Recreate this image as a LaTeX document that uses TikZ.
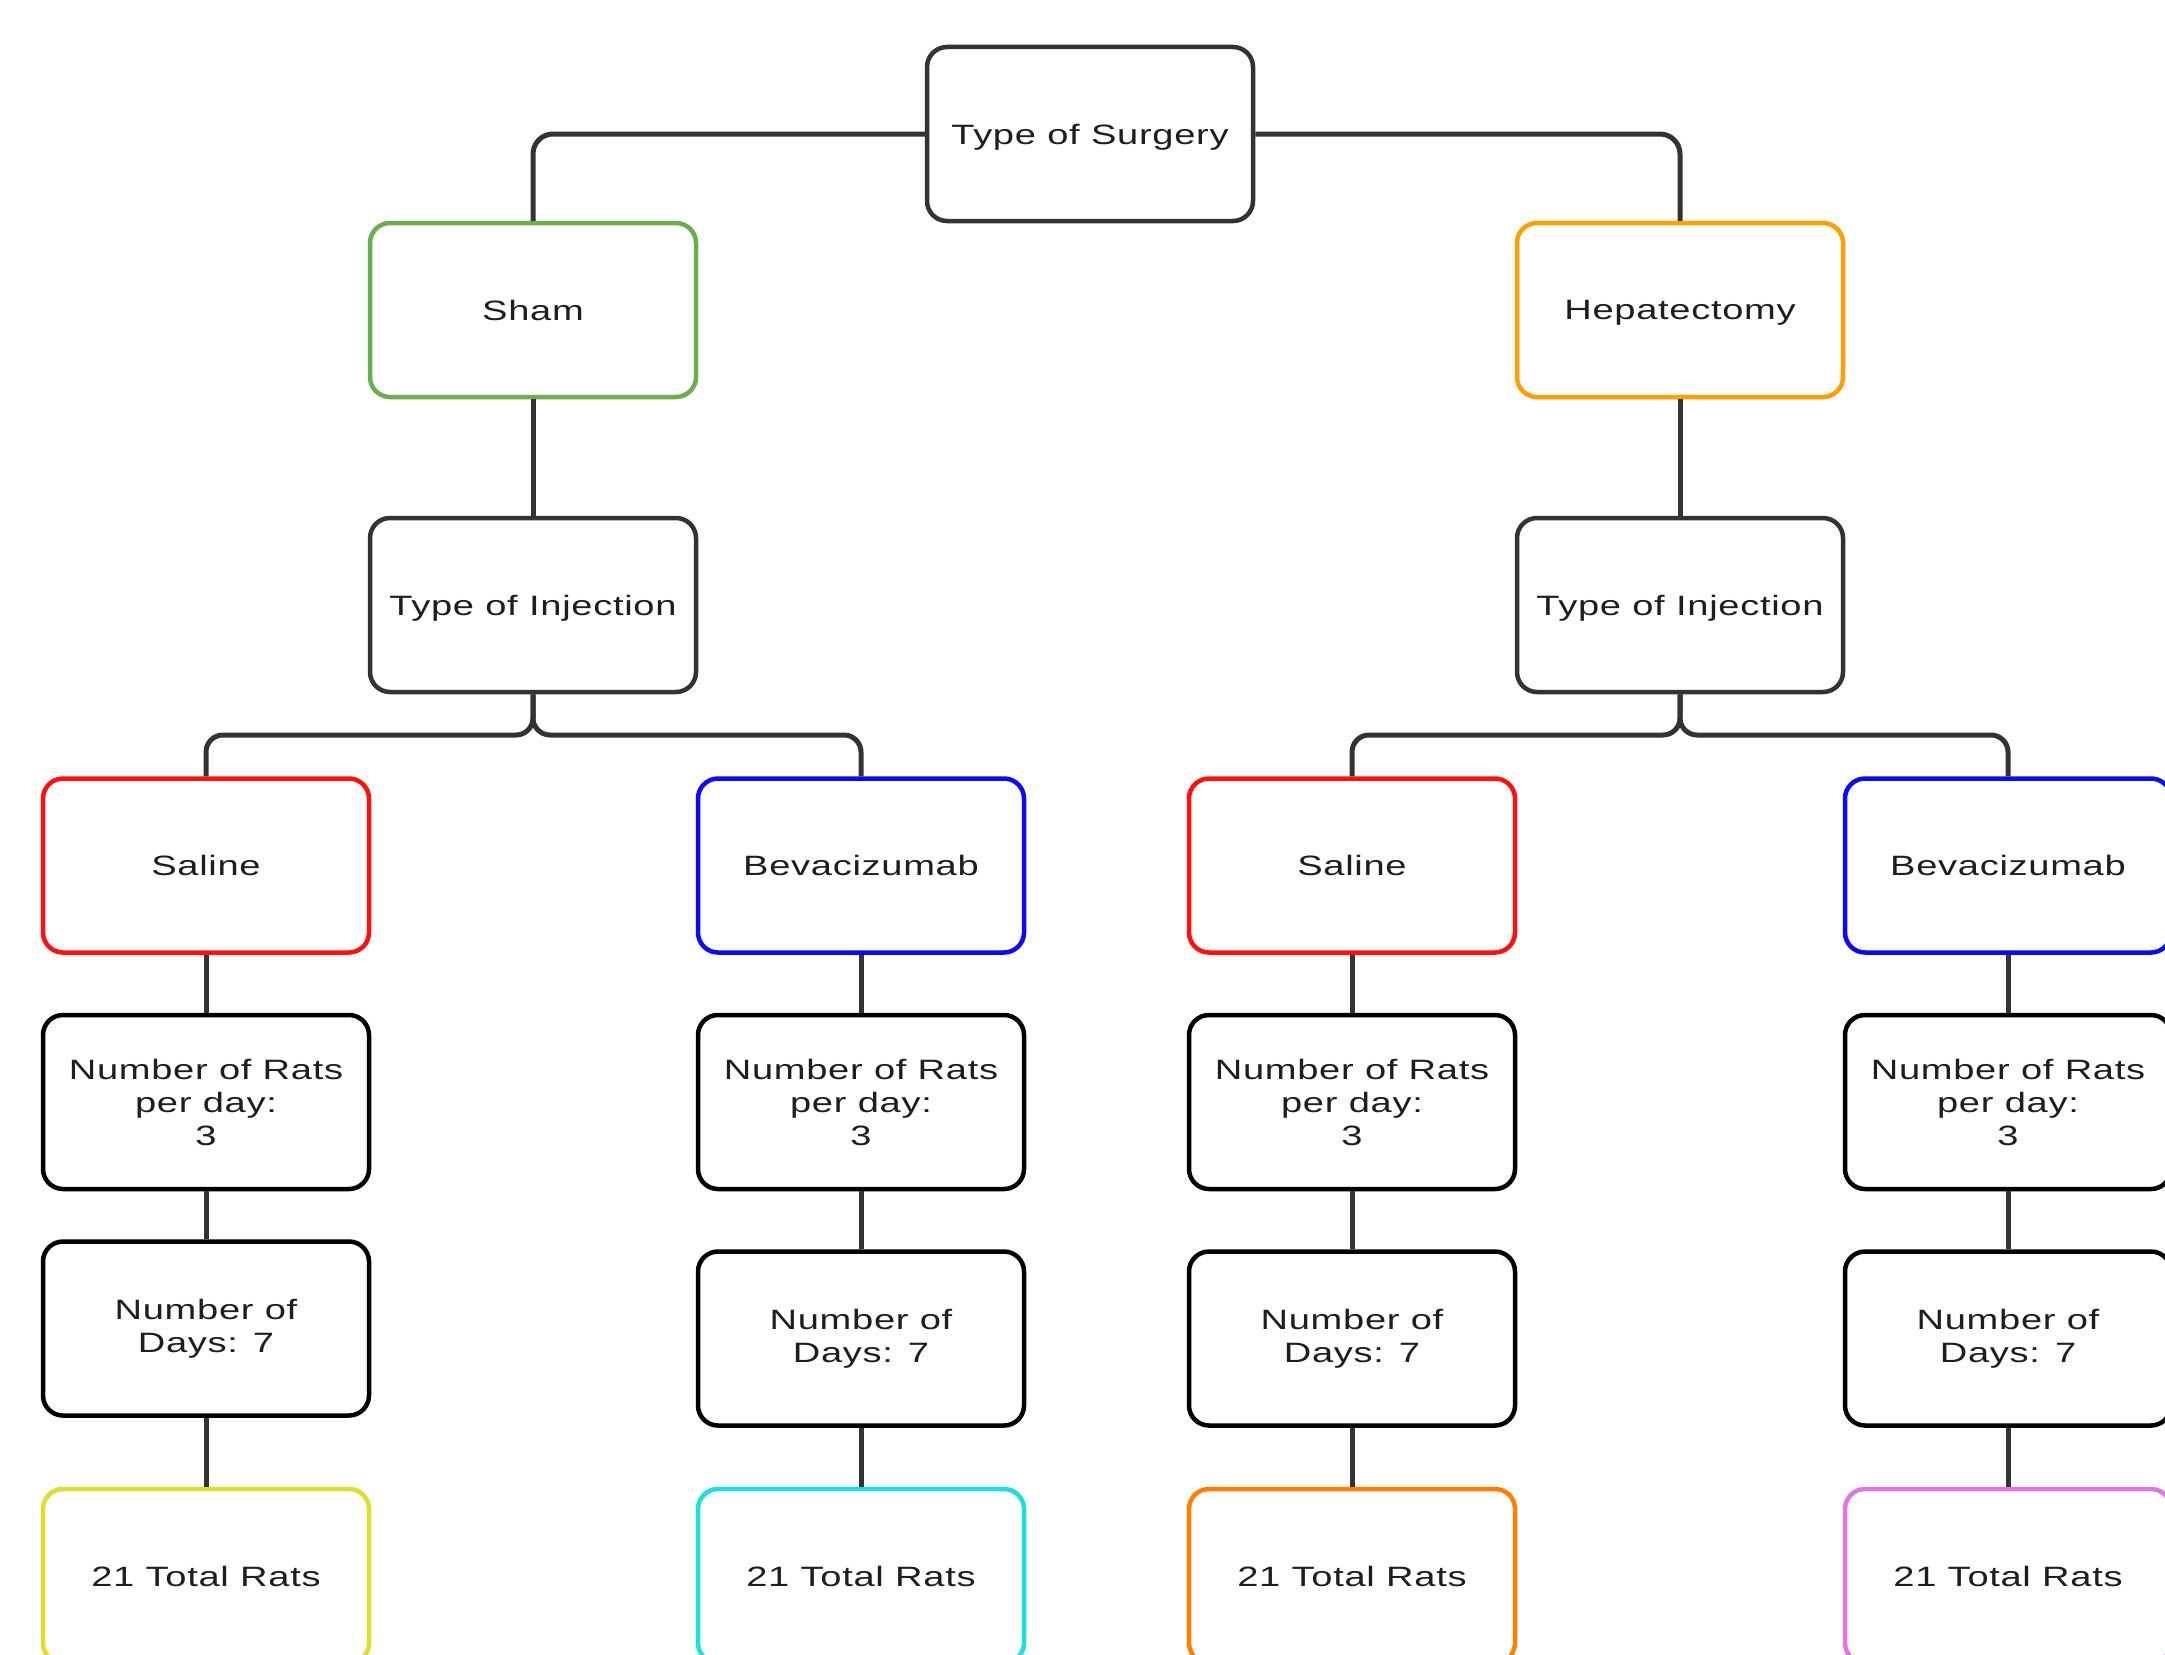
\documentclass[tikz,border=0pt]{standalone}
\usepackage{fontspec}
\setmainfont{Liberation Sans}[FakeStretch=1.36,LetterSpace=2.5]
\definecolor{txt}{HTML}{1E1E1E}
\definecolor{conncol}{HTML}{333333}
\definecolor{darkbox}{HTML}{333333}
\definecolor{shamgreen}{HTML}{6AAE4F}
\definecolor{hepor}{HTML}{FFA000}
\definecolor{salred}{HTML}{FF1010}
\definecolor{bevblue}{HTML}{0A0AF5}
\definecolor{totyel}{HTML}{DEDE2E}
\definecolor{totcyan}{HTML}{1EDEE0}
\definecolor{totor}{HTML}{FF7F00}
\definecolor{totvio}{HTML}{DE78DE}
\tikzset{
  box/.style={draw, line width=4.5pt, rounded corners=20pt, fill=white,
    minimum width=326pt, minimum height=174pt, inner sep=0pt,
    align=center, text=txt, font=\fontsize{28}{33}\selectfont},
  oneline/.style={text depth=0pt},
  conn/.style={draw=conncol, line width=5pt, rounded corners=20pt}
}
\begin{document}
\begin{tikzpicture}[x=1pt,y=-1pt]
\useasboundingbox (0,0) rectangle (2165,1654);
\clip (0,0) rectangle (2165,1654);
\fill[white] (0,0) rectangle (2165,1654);
\coordinate (f1) at (533,735);
\coordinate (f2) at (1680,735);
\node[box, oneline, draw=darkbox] (top) at (1090,134) {Type of Surgery};
\node[box, oneline, draw=shamgreen] (sham) at (533,310) {Sham};
\node[box, oneline, draw=hepor] (hep) at (1680,310) {Hepatectomy};
\node[box, oneline, draw=darkbox] (inj1) at (533,605) {Type of Injection};
\node[box, oneline, draw=darkbox] (inj2) at (1680,605) {Type of Injection};
\node[box, oneline, draw=salred] (sal1) at (206,865.5) {Saline};
\node[box, oneline, draw=bevblue] (bev1) at (861,865.5) {Bevacizumab};
\node[box, oneline, draw=salred] (sal2) at (1352,865.5) {Saline};
\node[box, oneline, draw=bevblue] (bev2) at (2008,865.5) {Bevacizumab};
\node[box, draw=black] (r1) at (206,1102) {Number of Rats\\per day:\\3};
\node[box, draw=black] (r2) at (861,1102) {Number of Rats\\per day:\\3};
\node[box, draw=black] (r3) at (1352,1102) {Number of Rats\\per day:\\3};
\node[box, draw=black] (r4) at (2008,1102) {Number of Rats\\per day:\\3};
\node[box, draw=black] (d1) at (206,1328.5) {Number of\\Days: 7};
\node[box, draw=black] (d2) at (861,1338.5) {Number of\\Days: 7};
\node[box, draw=black] (d3) at (1352,1338.5) {Number of\\Days: 7};
\node[box, draw=black] (d4) at (2008,1338.5) {Number of\\Days: 7};
\node[box, oneline, draw=totyel] (t1) at (206,1576) {21 Total Rats};
\node[box, oneline, draw=totcyan] (t2) at (861,1576) {21 Total Rats};
\node[box, oneline, draw=totor] (t3) at (1352,1576) {21 Total Rats};
\node[box, oneline, draw=totvio] (t4) at (2008,1576) {21 Total Rats};
\draw[conn] (top.west) -| (sham.north);
\draw[conn] (top.east) -| (hep.north);
\draw[conn] (sham.south) -- (inj1.north);
\draw[conn] (hep.south) -- (inj2.north);
\draw[conn, rounded corners=17pt] (inj1.south) -- (f1) -| (sal1.north);
\draw[conn, rounded corners=17pt] (inj1.south) -- (f1) -| (bev1.north);
\draw[conn, rounded corners=17pt] (inj2.south) -- (f2) -| (sal2.north);
\draw[conn, rounded corners=17pt] (inj2.south) -- (f2) -| (bev2.north);
\draw[conn] (sal1.south) -- (r1.north);
\draw[conn] (bev1.south) -- (r2.north);
\draw[conn] (sal2.south) -- (r3.north);
\draw[conn] (bev2.south) -- (r4.north);
\draw[conn] (r1.south) -- (d1.north);
\draw[conn] (r2.south) -- (d2.north);
\draw[conn] (r3.south) -- (d3.north);
\draw[conn] (r4.south) -- (d4.north);
\draw[conn] (d1.south) -- (t1.north);
\draw[conn] (d2.south) -- (t2.north);
\draw[conn] (d3.south) -- (t3.north);
\draw[conn] (d4.south) -- (t4.north);
\end{tikzpicture}
\end{document}
